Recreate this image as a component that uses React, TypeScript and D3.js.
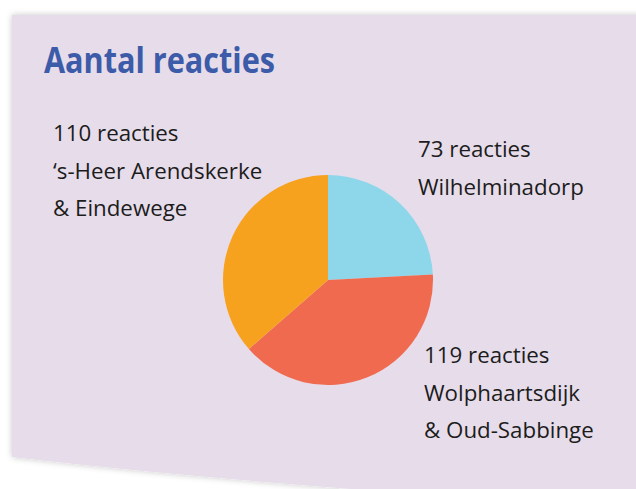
import React from "react";
import * as d3 from "d3";

const categories = ["Wilhelminadorp", "Wolphaartsdijk & Oud-Sabbinge", "'s-Heer Arendskerke & Eindewege"];
const values = [73, 119, 110];
const colors = ["#8ED7EA", "#F06A4F", "#F6A21F"];
const labelLines = [
  ["73 reacties", "Wilhelminadorp"],
  ["119 reacties", "Wolphaartsdijk", "& Oud-Sabbinge"],
  ["110 reacties", "\u2018s-Heer Arendskerke", "& Eindewege"],
];
const title = "Aantal reacties";

const W = 636;
const H = 489;

export default function App() {
  const cx = 328;
  const cy = 280;
  const r = 105;
  const pie = d3.pie<number>().sort(null).value((d) => d)(values);
  const arc = d3.arc<d3.PieArcDatum<number>>().innerRadius(0).outerRadius(r);
  const labelPos = [
    { x: 418, y: 157 },
    { x: 424, y: 363 },
    { x: 53, y: 141 },
  ];
  const lineH = 37.5;
  return (
    <svg
      width={W}
      height={H}
      style={{ position: "absolute", left: 0, top: 0, background: "#ffffff" }}
    >
      <defs>
        <filter id="sh" x="-5%" y="-5%" width="110%" height="110%">
          <feDropShadow dx="0" dy="0" stdDeviation="3" floodColor="#000" floodOpacity="0.22" />
        </filter>
      </defs>
      <path
        d="M12,15 L660,15 L660,510 Q250,485 12,457 Z"
        fill="#E7DCEA"
        filter="url(#sh)"
      />
      <text
        x={44}
        y={73}
        fontFamily="'Open Sans', sans-serif"
        fontWeight={700}
        fontSize={35}
        fill="#3C5BA8"
        textLength={231}
        lengthAdjust="spacingAndGlyphs"
      >
        {title}
      </text>
      <g transform={`translate(${cx},${cy})`}>
        {pie.map((p, i) => (
          <path key={categories[i]} d={arc(p) || ""} fill={colors[i]} />
        ))}
      </g>
      {labelLines.map((lines, i) => (
        <text
          key={i}
          fontFamily="'Open Sans', sans-serif"
          fontSize={22.3}
          fill="#1c1c1c"
        >
          {lines.map((l, j) => (
            <tspan key={j} x={labelPos[i].x} y={labelPos[i].y + j * lineH}>
              {l}
            </tspan>
          ))}
        </text>
      ))}
    </svg>
  );
}
